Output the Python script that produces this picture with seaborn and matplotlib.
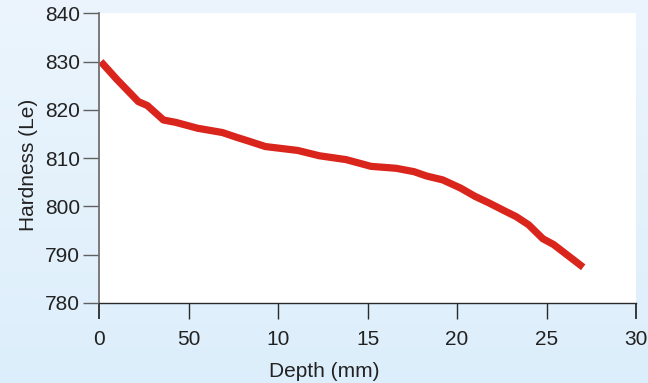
import numpy as np
import pandas as pd
import matplotlib
matplotlib.use("Agg")
import matplotlib.pyplot as plt
import seaborn as sns

depth = [0.1, 1.0, 2.2, 2.7, 3.6, 4.3, 5.5, 6.9, 7.7, 8.3, 9.3, 11.1, 12.3, 13.8,
         15.2, 16.6, 17.6, 18.3, 19.2, 20.2, 21.0, 21.8, 22.7, 23.3, 24.0, 24.8,
         25.4, 27.05]
hardness = [830.0, 826.3, 821.7, 820.9, 817.9, 817.4, 816.2, 815.3, 814.3, 813.6,
            812.4, 811.6, 810.5, 809.7, 808.3, 807.9, 807.2, 806.3, 805.5, 803.8,
            802.1, 800.7, 799.0, 797.9, 796.2, 793.3, 792.1, 787.4]
xticks = [0, 5, 10, 15, 20, 25, 30]
xticklabels = ['0', '50', '10', '15', '20', '25', '30']
yticks = [780, 790, 800, 810, 820, 830, 840]

df = pd.DataFrame({'Depth': depth, 'Hardness': hardness})

sns.set_theme(style='white')
plt.rcParams['font.family'] = ['Liberation Sans', 'DejaVu Sans']

W, H = 648, 383
fig = plt.figure(figsize=(W / 100, H / 100), dpi=100)

# background gradient
bg = fig.add_axes([0, 0, 1, 1], zorder=-10)
top = np.array([0.925, 0.960, 0.990])
bot = np.array([0.865, 0.935, 0.985])
t = np.linspace(0, 1, 200)[:, None, None]
grad = top * (1 - t) + bot * t
grad = np.repeat(grad, 2, axis=1)
bg.imshow(grad, aspect='auto', extent=[0, 1, 0, 1])
bg.axis('off')

ax = fig.add_axes([99 / W, 1 - 303 / H, (636 - 99) / W, (303 - 13.3) / H])
ax.set_facecolor('white')
sns.lineplot(data=df, x='Depth', y='Hardness', ax=ax, color='#d9251b',
             linewidth=5.2, solid_capstyle='butt', solid_joinstyle='round')

ax.set_xlim(0, 30)
ax.set_ylim(780, 840)
ax.set_xticks(xticks)
ax.set_xticklabels(xticklabels)
ax.set_yticks(yticks)
ax.set_xlabel('Depth (mm)', fontsize=15, color='#222222', labelpad=9)
ax.set_ylabel('Hardness (Le)', fontsize=15, color='#222222', labelpad=5)
ax.xaxis.label.set_x(0.419)
ax.yaxis.label.set_y(0.476)

for s in ['top', 'right']:
    ax.spines[s].set_visible(False)
ax.spines['left'].set_color('#707070')
ax.spines['left'].set_linewidth(1.3)
ax.spines['bottom'].set_color('#2a2a2a')
ax.spines['bottom'].set_linewidth(1.0)
ax.tick_params(axis='y', direction='out', length=11.5, width=1.0, color='#606060',
               labelsize=15, labelcolor='#222222', pad=2, left=True)
ax.tick_params(axis='x', direction='out', length=11.5, width=1.0, color='#2a2a2a',
               labelsize=15, labelcolor='#222222', pad=8, bottom=True)
xt = ax.xaxis.get_major_ticks()
for i in (0, -1):
    xt[i].tick1line.set_color('#707070')
    xt[i].tick1line.set_markeredgewidth(1.3)
ax.grid(False)

fig.savefig('out.png', dpi=100, facecolor=fig.get_facecolor())
